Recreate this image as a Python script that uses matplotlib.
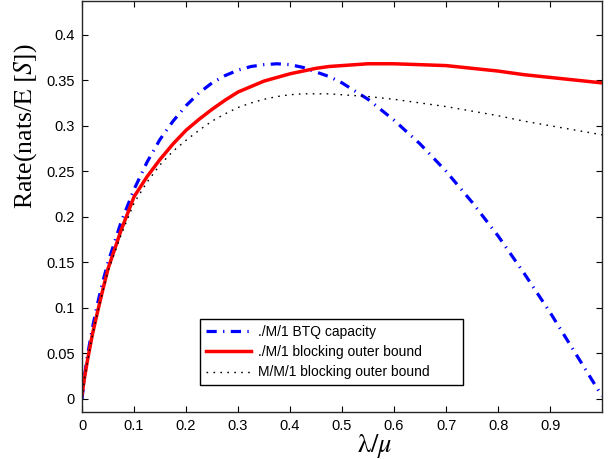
import matplotlib
matplotlib.use("Agg")
import matplotlib.pyplot as plt

# values
lam = [0, 0.005, 0.01, 0.02, 0.03, 0.04, 0.05, 0.075, 0.1, 0.125, 0.15, 0.175,
       0.2, 0.225, 0.25, 0.275, 0.3, 0.325, 0.35, 0.375, 0.4, 0.425, 0.45, 0.475,
       0.5, 0.55, 0.6, 0.65, 0.7, 0.75, 0.8, 0.85, 0.9, 0.95, 1.0]
btq = [0.0, 0.026, 0.046, 0.078, 0.105, 0.129, 0.150, 0.194, 0.230, 0.260, 0.285, 0.305,
       0.322, 0.336, 0.347, 0.355, 0.361, 0.365, 0.367, 0.368, 0.367, 0.364, 0.359, 0.354,
       0.347, 0.329, 0.306, 0.280, 0.250, 0.216, 0.179, 0.138, 0.095, 0.049, 0.003]
blk = [0.005, 0.024, 0.041, 0.071, 0.096, 0.120, 0.143, 0.185, 0.222, 0.244, 0.263, 0.280,
       0.295, 0.307, 0.318, 0.328, 0.337, 0.343, 0.349, 0.353, 0.357, 0.360, 0.363, 0.365,
       0.366, 0.368, 0.368, 0.367, 0.366, 0.363, 0.360, 0.356, 0.353, 0.350, 0.347]
mm1 = [0.0, 0.022, 0.040, 0.070, 0.095, 0.118, 0.140, 0.180, 0.215, 0.238, 0.257, 0.272,
       0.284, 0.295, 0.305, 0.313, 0.320, 0.325, 0.329, 0.332, 0.334, 0.335, 0.335, 0.335,
       0.334, 0.332, 0.329, 0.325, 0.321, 0.316, 0.311, 0.305, 0.300, 0.295, 0.290]

labels = ['./M/1 BTQ capacity', './M/1 blocking outer bound', 'M/M/1 blocking outer bound']
xticks = [0, 0.1, 0.2, 0.3, 0.4, 0.5, 0.6, 0.7, 0.8, 0.9]
yticks = [0, 0.05, 0.1, 0.15, 0.2, 0.25, 0.3, 0.35, 0.4]

plt.rcParams['font.family'] = ['Liberation Sans', 'DejaVu Sans']
plt.rcParams['mathtext.fontset'] = 'stix'

fig = plt.figure(figsize=(6.13, 4.59), dpi=100)
ax = fig.add_axes([0.1338, 0.103, 0.8484, 0.895])

ax.plot(lam, btq, color='blue', lw=2.3, linestyle=(0, (3.2, 2, 0.4, 2)), label=labels[0])
ax.plot(lam, blk, color='red', lw=2.5, label=labels[1])
ax.plot(lam, mm1, color='black', lw=1.0, linestyle=(0, (1.2, 3.8)), label=labels[2])

ax.set_xlim(0, 1)
ax.set_ylim(-0.014, 0.437)
ax.set_xticks(xticks)
ax.set_xticklabels([f"{t:g}" for t in xticks])
ax.set_yticks(yticks)
ax.set_yticklabels([f"{t:g}" for t in yticks])
ax.tick_params(direction='in', length=4, width=0.8, top=True, right=True,
               labelsize=10.5, pad=5)
for s in ax.spines.values():
    s.set_linewidth(1.0)
    s.set_color('#262626')

ax.set_xlabel(r'$\mathrm{\lambda}/\mu$', fontsize=19)
ax.xaxis.set_label_coords(0.563, -0.05)
ax.set_ylabel(r'Rate(nats/$\mathrm{E}\ \left[S\right]$)', fontsize=18.5,
              family='Liberation Serif')
ax.yaxis.set_label_coords(-0.082, 0.695)

leg = ax.legend(loc='lower left', bbox_to_anchor=(0.227, 0.065, 0.506, 0.178),
                mode='expand', fontsize=10, fancybox=False, framealpha=1,
                edgecolor='black', handlelength=3.3, borderaxespad=0,
                labelspacing=0.45, handletextpad=0.5, borderpad=0.4)
leg.get_frame().set_linewidth(1.0)

fig.savefig('out.png', dpi=100)
